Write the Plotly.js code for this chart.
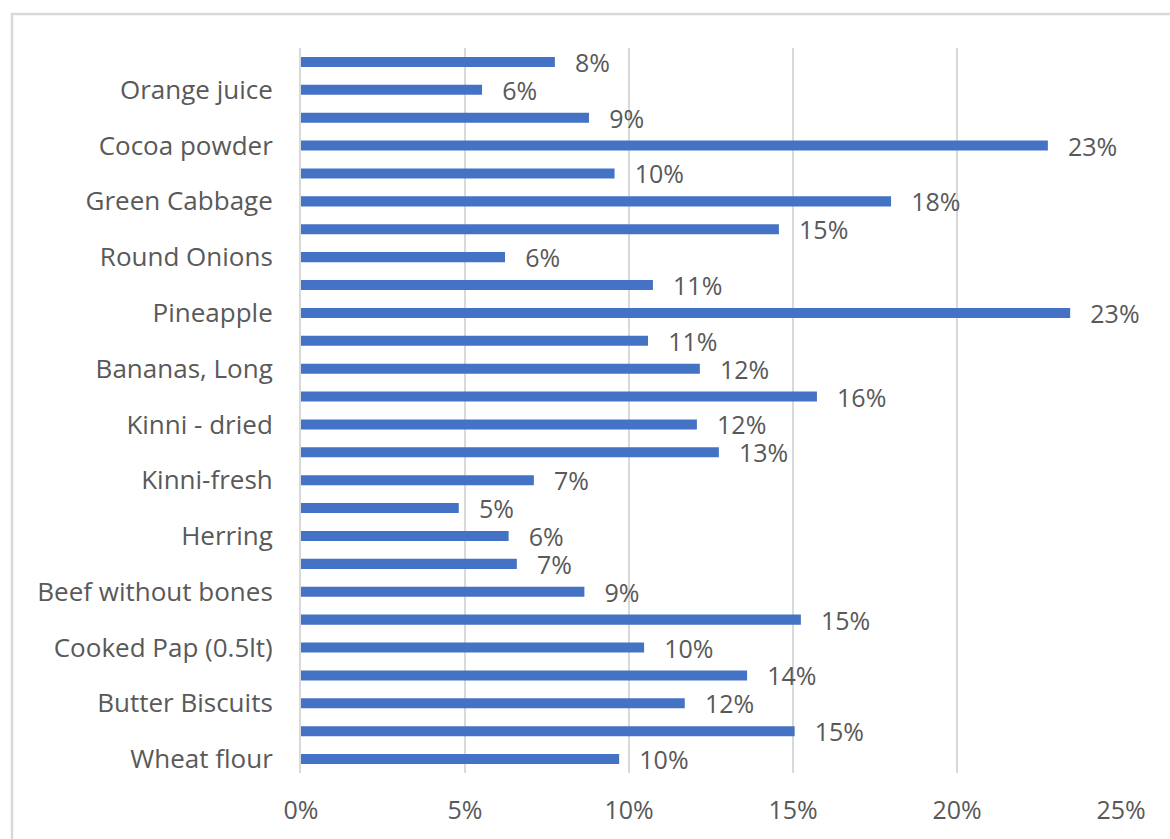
<!DOCTYPE html>
<html>
<head>
<meta charset="utf-8">
<script src="https://cdn.plot.ly/plotly-3.0.1.min.js"></script>
<style>
  html, body { margin: 0; padding: 0; background: #ffffff; }
  #chart { width: 1170px; height: 839px; }
</style>
</head>
<body>
<div id="chart"></div>
<script>
// Categories listed from bottom to top; '' = bar without a visible label
const categories = [
  'Wheat flour', '',
  'Butter Biscuits', '',
  'Cooked Pap (0.5lt)', '',
  'Beef without bones', '',
  'Herring', '',
  'Kinni-fresh', '',
  'Kinni - dried', '',
  'Bananas, Long', '',
  'Pineapple', '',
  'Round Onions', '',
  'Green Cabbage', '',
  'Cocoa powder', '',
  'Orange juice', ''
];

const values = [
  0.097, 0.1505,
  0.117, 0.136,
  0.1046, 0.1524,
  0.0864, 0.0658,
  0.0633, 0.0481,
  0.071, 0.1274,
  0.1207, 0.1573,
  0.1216, 0.1058,
  0.2345, 0.1073,
  0.0622, 0.1457,
  0.1799, 0.0956,
  0.2277, 0.0878,
  0.0552, 0.0774
];

const xTickVals = [0, 0.05, 0.10, 0.15, 0.20, 0.25];
const xTickText = ['0%', '5%', '10%', '15%', '20%', '25%'];

const positions = categories.map((_, i) => i);

const W = 1170, H = 839;
const M = { l: 301, r: 49, t: 48, b: 66 };
const plotW = W - M.l - M.r, plotH = H - M.t - M.b;
const px2x = p => (p - M.l) / plotW;
const py2y = p => (H - M.b - p) / plotH;

const FONT = '"Open Sans", "Noto Sans", sans-serif';
const GRAY = '#595959';
const GRID = '#d9d9d9';

const trace = {
  type: 'bar',
  orientation: 'h',
  x: values,
  y: positions,
  marker: { color: '#4472C4', line: { width: 0 } },
  width: 0.36,
  texttemplate: '\u00a0\u00a0\u2009%{x:.0%}',
  textposition: 'outside',
  cliponaxis: false,
  constraintext: 'none',
  textfont: { family: FONT, size: 25, color: GRAY },
  hoverinfo: 'skip'
};

const layout = {
  width: W,
  height: H,
  margin: M,
  paper_bgcolor: '#ffffff',
  plot_bgcolor: '#ffffff',
  showlegend: false,
  font: { family: FONT, color: GRAY },
  xaxis: {
    range: [0, 0.25],
    tickvals: xTickVals,
    ticktext: xTickText,
    showgrid: true,
    gridcolor: GRID,
    gridwidth: 2,
    zeroline: false,
    showline: false,
    ticks: '',
    ticklabelstandoff: 20,
    tickfont: { family: FONT, size: 25, color: GRAY },
    fixedrange: true
  },
  yaxis: {
    range: [-0.5, categories.length - 0.5],
    tickvals: positions,
    ticktext: categories,
    showgrid: false,
    zeroline: false,
    showline: true,
    linecolor: GRID,
    linewidth: 2,
    ticks: '',
    ticklabelstandoff: 21,
    tickfont: { family: FONT, size: 26, color: GRAY },
    fixedrange: true
  },
  shapes: [{
    type: 'rect',
    xref: 'paper', yref: 'paper',
    x0: px2x(12), x1: px2x(W + 10),
    y0: py2y(H + 10), y1: py2y(14),
    line: { color: GRID, width: 2.5 },
    fillcolor: 'rgba(0,0,0,0)',
    layer: 'below'
  }]
};

Plotly.newPlot('chart', [trace], layout, { displayModeBar: false, staticPlot: true });
</script>
</body>
</html>
